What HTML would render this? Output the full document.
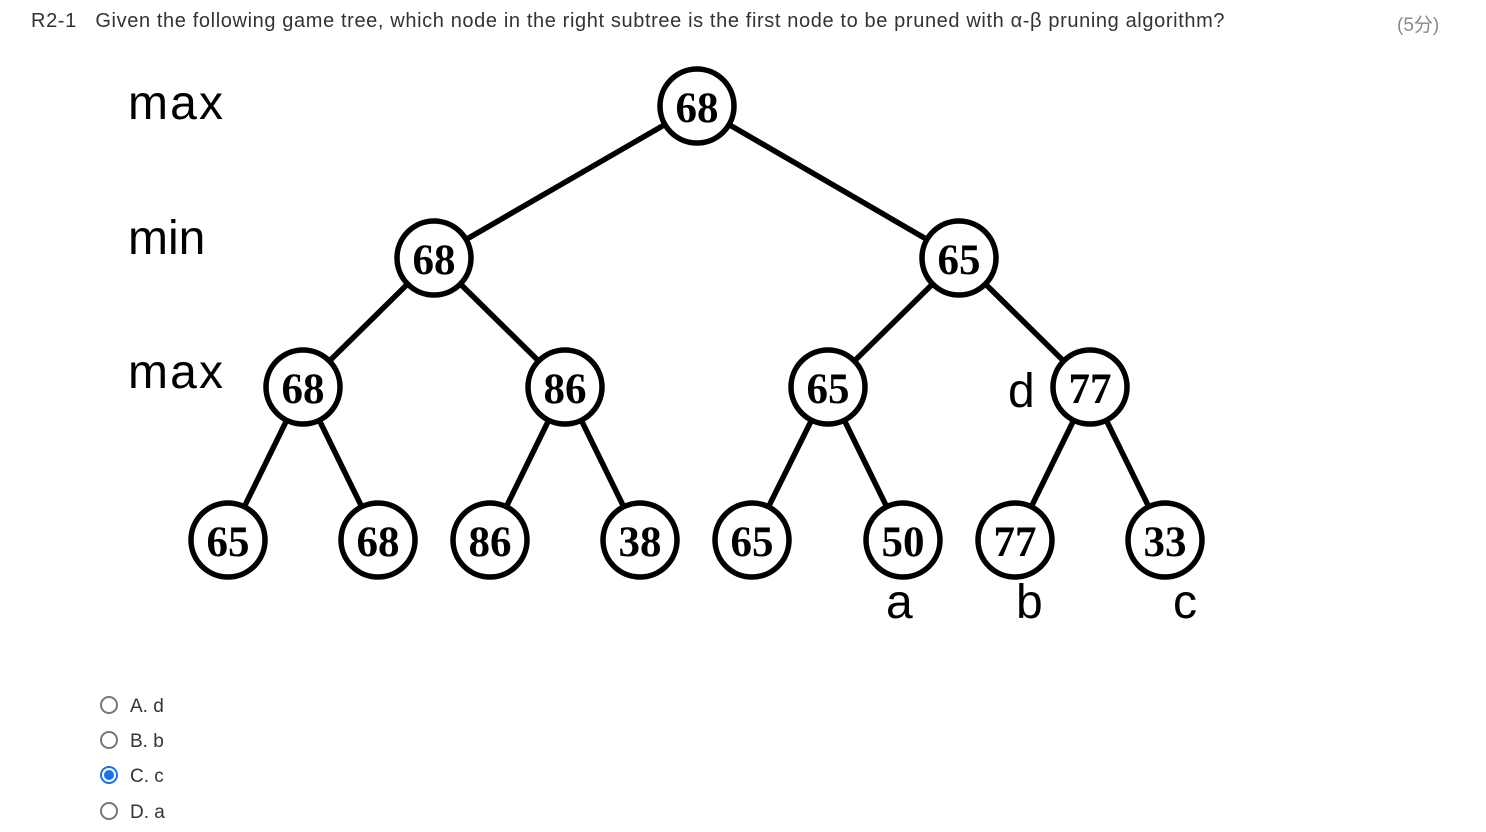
<!DOCTYPE html>
<html><head><meta charset="utf-8"><style>
body{margin:0;width:1486px;height:832px;background:#fff;font-family:"Liberation Sans",sans-serif;overflow:hidden;position:relative}
.h{position:absolute;top:10px;left:31px;font-size:20px;color:#333;letter-spacing:0.62px;white-space:nowrap}
.s{position:absolute;top:10px;left:1397px;font-size:19px;color:#888}
.o{position:absolute;left:100px;font-size:19px;color:#333}
.r{display:inline-block;width:14px;height:14px;border:2px solid #777;border-radius:50%;vertical-align:-2px;margin-right:12px}
.c{border-color:#1a73e8;position:relative}
.c:after{content:"";position:absolute;left:2px;top:2px;width:10px;height:10px;border-radius:50%;background:#1a73e8}
</style></head><body>
<div class="h">R2-1&nbsp;&nbsp;&nbsp;Given the following game tree, which node in the right subtree is the first node to be pruned with α-β pruning algorithm?</div>
<div class="s">(5分)</div>
<svg width="1486" height="832" style="position:absolute;left:0;top:0">
<g stroke="#000" stroke-width="5.5">
<line x1="697" y1="106" x2="434" y2="258"/><line x1="697" y1="106" x2="959" y2="258"/>
<line x1="434" y1="258" x2="303" y2="387"/><line x1="434" y1="258" x2="565" y2="387"/>
<line x1="959" y1="258" x2="828" y2="387"/><line x1="959" y1="258" x2="1090" y2="387"/>
<line x1="303" y1="387" x2="228" y2="540"/><line x1="303" y1="387" x2="378" y2="540"/>
<line x1="565" y1="387" x2="490" y2="540"/><line x1="565" y1="387" x2="640" y2="540"/>
<line x1="828" y1="387" x2="752" y2="540"/><line x1="828" y1="387" x2="903" y2="540"/>
<line x1="1090" y1="387" x2="1015" y2="540"/><line x1="1090" y1="387" x2="1165" y2="540"/>
</g>
<g fill="#fff" stroke="#000" stroke-width="5.5">
<circle cx="697" cy="106" r="37"/><circle cx="434" cy="258" r="37"/><circle cx="959" cy="258" r="37"/>
<circle cx="303" cy="387" r="37"/><circle cx="565" cy="387" r="37"/><circle cx="828" cy="387" r="37"/><circle cx="1090" cy="387" r="37"/>
<circle cx="228" cy="540" r="37"/><circle cx="378" cy="540" r="37"/><circle cx="490" cy="540" r="37"/><circle cx="640" cy="540" r="37"/>
<circle cx="752" cy="540" r="37"/><circle cx="903" cy="540" r="37"/><circle cx="1015" cy="540" r="37"/><circle cx="1165" cy="540" r="37"/>
</g>
<g font-family="Liberation Serif,serif" font-weight="bold" font-size="43" text-anchor="middle">
<text x="697" y="122">68</text><text x="434" y="274">68</text><text x="959" y="274">65</text>
<text x="303" y="403">68</text><text x="565" y="403">86</text><text x="828" y="403">65</text><text x="1090" y="403">77</text>
<text x="228" y="556">65</text><text x="378" y="556">68</text><text x="490" y="556">86</text><text x="640" y="556">38</text>
<text x="752" y="556">65</text><text x="903" y="556">50</text><text x="1015" y="556">77</text><text x="1165" y="556">33</text>
</g>
<g font-family="Liberation Sans,sans-serif" font-size="48">
<text x="128" y="119" textLength="95">max</text><text x="128" y="254">min</text><text x="128" y="388" textLength="95">max</text>
<text x="1008" y="407">d</text><text x="886" y="618">a</text><text x="1016" y="618">b</text><text x="1173" y="618">c</text>
</g>
</svg>
<div class="o" style="top:696px"><span class="r"></span>A. d</div>
<div class="o" style="top:731px"><span class="r"></span>B. b</div>
<div class="o" style="top:766px"><span class="r c"></span>C. c</div>
<div class="o" style="top:802px"><span class="r"></span>D. a</div>
</body></html>
